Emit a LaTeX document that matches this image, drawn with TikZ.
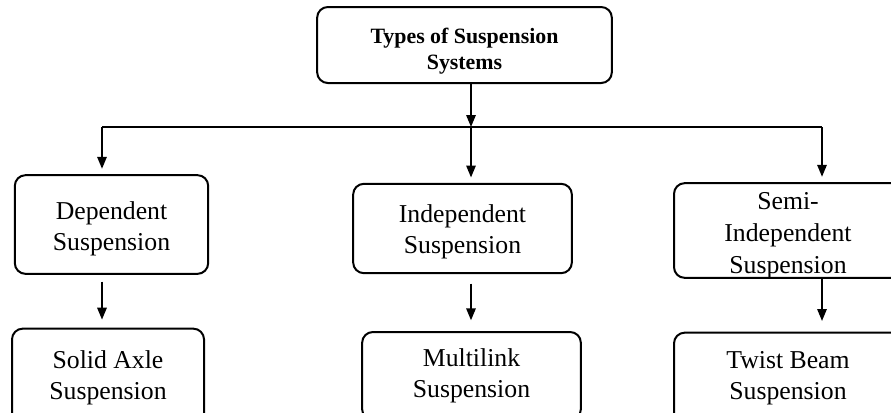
\documentclass[tikz,border=0pt]{standalone}
\usepackage{fontspec}
\setmainfont{Liberation Serif}
\usetikzlibrary{arrows.meta}
\newcommand{\pushdown}[1]{\rule{0pt}{#1}}

\begin{document}
\begin{tikzpicture}[x=0.75pt, y=-0.75pt, line width=1.5pt,
  every node/.style={draw, rounded corners=8pt, align=center, inner sep=0pt,
    font=\fontsize{19.3}{23.5}\selectfont},
  arr/.style={-{Triangle[width=7pt,length=9pt]}, shorten >=4pt}]
\useasboundingbox (0,0) rectangle (891,412);
\clip (0,0) rectangle (891,412);
\node[minimum width=221pt, minimum height=57pt, text depth=0pt, font=\fontsize{16.4}{20}\selectfont\bfseries] (types) at (464.5,45) {\pushdown{17pt}Types of Suspension\\Systems};
\node[minimum width=145pt, minimum height=74pt, text depth=0pt] (dep) at (111.5,224.5) {\pushdown{15.7pt}Dependent\\Suspension};
\node[minimum width=164pt, minimum height=67pt, text depth=0pt] (ind) at (462.5,228.5) {\pushdown{14pt}Independent\\Suspension};
\node[minimum width=171pt, minimum height=71pt, text depth=0pt, font=\fontsize{19.3}{24}\selectfont] (semi) at (788,230.5) {\pushdown{16.5pt}Semi-\\Independent\\Suspension};
\node[minimum width=144pt, minimum height=74pt] (solid) at (108,378) {Solid Axle\\Suspension};
\node[minimum width=164pt, minimum height=66pt] (multi) at (471.5,376) {Multilink\\Suspension};
\node[minimum width=171pt, minimum height=68pt] (twist) at (788,378) {Twist Beam\\Suspension};
\coordinate (busL) at (102,127);
\coordinate (busM) at (471,127);
\coordinate (busR) at (822,127);
\draw (busL) -- (busR);
\draw[arr, shorten >=0pt] (busM |- types.south) -- (busM);
\draw[arr] (busL) -- (busL |- dep.north);
\draw[arr] (busM) -- (busM |- ind.north);
\draw[arr] (busR) -- (busR |- semi.north);
\draw[arr, shorten <=5pt, shorten >=6pt] (busL |- dep.south) -- (busL |- solid.north);
\draw[arr, shorten <=7pt, shorten >=8pt] (busM |- ind.south) -- (busM |- multi.north);
\draw[arr, shorten >=8pt] (busR |- semi.south) -- (busR |- twist.north);
\end{tikzpicture}
\end{document}
